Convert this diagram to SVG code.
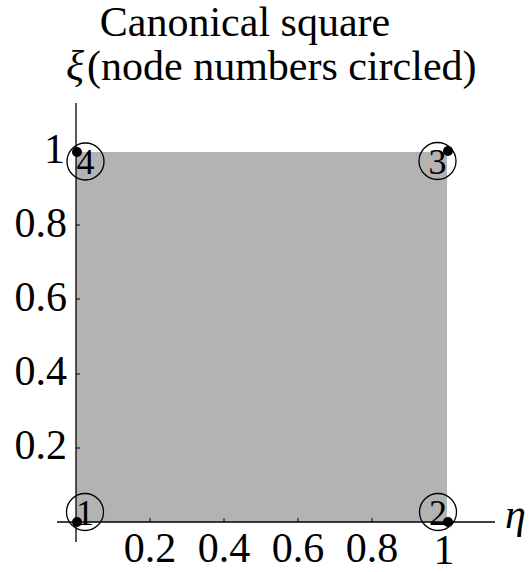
<svg xmlns="http://www.w3.org/2000/svg" width="529" height="572" viewBox="0 0 529 572">
<style>
text{font-family:"Liberation Serif","Times New Roman",serif;fill:#000}
.t{font-size:42px}
.tick{font-size:42px}
.num{font-size:36px;text-anchor:middle}
.ax{stroke:#000;stroke-width:1.3;fill:none}
.tk{stroke:#000;stroke-width:1;fill:none}
.ring{fill:none;stroke:#000;stroke-width:1.3}
.dot{fill:#000}
</style>
<rect x="76" y="152" width="371" height="370" fill="#b3b3b3"/>
<g id="axes">
<line class="ax" x1="76" y1="103" x2="76" y2="542"/>
<line class="ax" x1="57" y1="522" x2="495" y2="522"/>
<g class="tk">
<line x1="150" y1="522" x2="150" y2="518"/>
<line x1="224" y1="522" x2="224" y2="518"/>
<line x1="298" y1="522" x2="298" y2="518"/>
<line x1="372" y1="522" x2="372" y2="518"/>
<line x1="447" y1="522" x2="447" y2="518"/>
<line x1="76" y1="448" x2="80" y2="448"/>
<line x1="76" y1="374" x2="80" y2="374"/>
<line x1="76" y1="299" x2="80" y2="299"/>
<line x1="76" y1="225" x2="80" y2="225"/>
<line x1="76" y1="152" x2="80" y2="152"/>
</g>
<g class="tick" text-anchor="middle">
<text x="150" y="562">0.2</text>
<text x="224" y="562">0.4</text>
<text x="298" y="562">0.6</text>
<text x="372" y="562">0.8</text>
<text x="444" y="564">1</text>
</g>
<g class="tick" text-anchor="end">
<text x="67" y="459">0.2</text>
<text x="67" y="385">0.4</text>
<text x="67" y="311">0.6</text>
<text x="67" y="237">0.8</text>
<text x="65" y="163">1</text>
</g>
<text class="t" x="505" y="528" font-style="italic">η</text>
<text class="t" x="66" y="80" font-style="italic">ξ</text>
</g>
<g id="title">
<text class="t" x="245" y="36" text-anchor="middle">Canonical square</text>
<text class="t" x="87" y="80">(node numbers circled)</text>
</g>
<g id="node1">
<circle class="ring" cx="85" cy="512" r="18.5"/>
<text class="num" x="85" y="525">1</text>
<circle class="dot" cx="77" cy="522" r="5"/>
</g>
<g id="node2">
<circle class="ring" cx="438" cy="512" r="18.5"/>
<text class="num" x="438" y="525">2</text>
<circle class="dot" cx="448" cy="522" r="5"/>
</g>
<g id="node3">
<circle class="ring" cx="437.5" cy="161" r="18.5"/>
<text class="num" x="437.5" y="174">3</text>
<circle class="dot" cx="448" cy="151" r="5"/>
</g>
<g id="node4">
<circle class="ring" cx="85.5" cy="161.5" r="18.5"/>
<text class="num" x="85.5" y="174">4</text>
<circle class="dot" cx="77" cy="152" r="5"/>
</g>
</svg>
